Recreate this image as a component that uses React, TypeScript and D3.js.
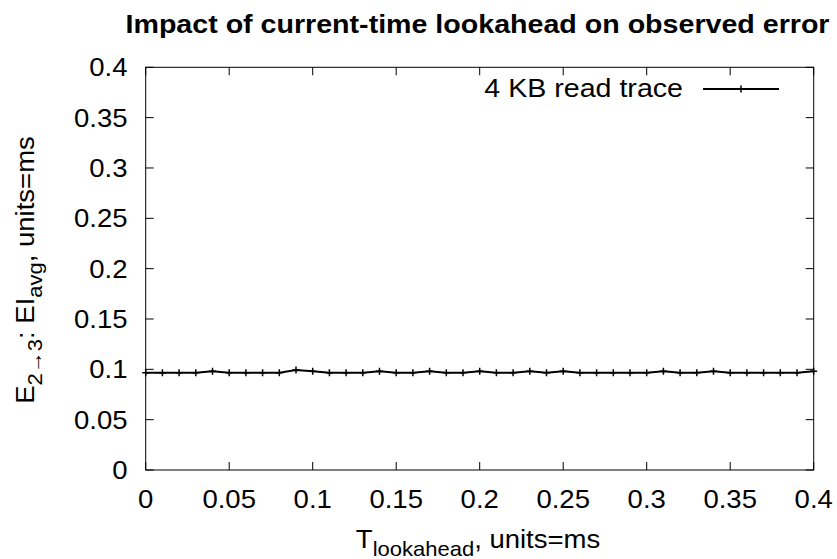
import React from "react";
import * as d3 from "d3";

const lookahead: number[] = [
  0, 0.01, 0.02, 0.03, 0.04, 0.05, 0.06, 0.07, 0.08, 0.09, 0.1, 0.11, 0.12, 0.13,
  0.14, 0.15, 0.16, 0.17, 0.18, 0.19, 0.2, 0.21, 0.22, 0.23, 0.24, 0.25, 0.26,
  0.27, 0.28, 0.29, 0.3, 0.31, 0.32, 0.33, 0.34, 0.35, 0.36, 0.37, 0.38, 0.39, 0.4,
];
const errorAvg: number[] = [
  0.0967, 0.0967, 0.0967, 0.0967, 0.098, 0.0967, 0.0967, 0.0967, 0.0967, 0.0993,
  0.098, 0.0967, 0.0967, 0.0967, 0.098, 0.0967, 0.0967, 0.098, 0.0967, 0.0967,
  0.098, 0.0967, 0.0967, 0.098, 0.0967, 0.098, 0.0967, 0.0967, 0.0967, 0.0967,
  0.0967, 0.098, 0.0967, 0.0967, 0.098, 0.0967, 0.0967, 0.0967, 0.0967, 0.0967,
  0.098,
];
const xTicks: number[] = [0, 0.05, 0.1, 0.15, 0.2, 0.25, 0.3, 0.35, 0.4];
const yTicks: number[] = [0, 0.05, 0.1, 0.15, 0.2, 0.25, 0.3, 0.35, 0.4];
const title = "Impact of current-time lookahead on observed error";
const seriesName = "4 KB read trace";

const W = 837;
const H = 559;
const L = 145.7;
const R = 813.7;
const T = 67.3;
const B = 470;
const FONT = "'Liberation Sans', Arial, Helvetica, sans-serif";
const SX = 1.1;

function Txt(props: {
  x: number;
  y: number;
  anchor?: string;
  size: number;
  weight?: string;
  rotate?: number;
  children: React.ReactNode;
}) {
  const { x, y, anchor = "start", size, weight = "normal", rotate = 0, children } = props;
  return (
    <g transform={`translate(${x},${y}) rotate(${rotate}) scale(${SX},1)`}>
      <text x={0} y={0} textAnchor={anchor} fontSize={size} fontWeight={weight} fill="#000">
        {children}
      </text>
    </g>
  );
}

export default function App() {
  const x = d3.scaleLinear().domain([0, 0.4]).range([L, R]);
  const y = d3.scaleLinear().domain([0, 0.4]).range([B, T]);
  const data = lookahead.map((v, i) => [v, errorAvg[i]] as [number, number]);
  const line = d3
    .line<[number, number]>()
    .x((d) => x(d[0]))
    .y((d) => y(d[1]));
  const fmt = (v: number) => String(+v.toFixed(2));
  const tl = 8;
  const ms = 3.5;

  return (
    <svg
      width={W}
      height={H}
      style={{ position: "absolute", left: 0, top: 0, background: "#fff" }}
      fontFamily={FONT}
    >
      <rect x={0} y={0} width={W} height={H} fill="#fff" />
      <Txt x={477.5} y={33} anchor="middle" size={26} weight="bold">
        {title}
      </Txt>

      {xTicks.map((t) => (
        <g key={"x" + t}>
          <line x1={x(t)} x2={x(t)} y1={B} y2={B - tl} stroke="#000" strokeWidth={1} />
          <line x1={x(t)} x2={x(t)} y1={T} y2={T + tl} stroke="#000" strokeWidth={1} />
          <Txt x={x(t)} y={508} anchor="middle" size={25}>
            {fmt(t)}
          </Txt>
        </g>
      ))}
      {yTicks.map((t) => (
        <g key={"y" + t}>
          <line x1={L} x2={L + tl} y1={y(t)} y2={y(t)} stroke="#000" strokeWidth={1} />
          <line x1={R} x2={R - tl} y1={y(t)} y2={y(t)} stroke="#000" strokeWidth={1} />
          <Txt x={127.5} y={y(t) + 9} anchor="end" size={25}>
            {fmt(t)}
          </Txt>
        </g>
      ))}

      <rect x={L} y={T} width={R - L} height={B - T} fill="none" stroke="#000" strokeWidth={1} />

      <path d={line(data) || ""} fill="none" stroke="#000" strokeWidth={2} />
      {data.map((d, i) => (
        <path
          key={i}
          d={`M${x(d[0]) - ms},${y(d[1])}h${2 * ms}M${x(d[0])},${y(d[1]) - ms}v${2 * ms}`}
          stroke="#000"
          strokeWidth={1.5}
        />
      ))}

      <Txt x={683} y={97} anchor="end" size={26}>
        {seriesName}
      </Txt>
      <line x1={703} x2={779} y1={89} y2={89} stroke="#000" strokeWidth={2} />
      <path d={`M${741 - ms},89h${2 * ms}M741,${89 - ms}v${2 * ms}`} stroke="#000" strokeWidth={1.5} />

      <Txt x={478} y={548} anchor="middle" size={25}>
        <tspan>T</tspan>
        <tspan fontSize={20} dy={8}>lookahead</tspan>
        <tspan dy={-8}>, units=ms</tspan>
      </Txt>

      <Txt x={34} y={270} anchor="middle" size={25} rotate={-90}>
        <tspan>E</tspan>
        <tspan fontSize={20} dy={8}>2→3</tspan>
        <tspan dy={-8}>: EI</tspan>
        <tspan fontSize={20} dy={8}>avg</tspan>
        <tspan dy={-8}>, units=ms</tspan>
      </Txt>
    </svg>
  );
}
